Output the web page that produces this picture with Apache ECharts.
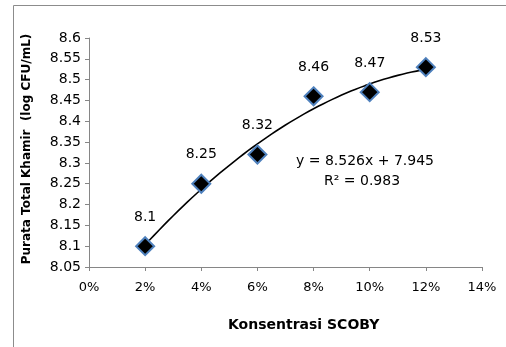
<!DOCTYPE html>
<html><head><meta charset="utf-8">
<script src="https://cdn.jsdelivr.net/npm/echarts@6/dist/echarts.min.js"></script>
<style>html,body{margin:0;padding:0;background:#fff}#c{width:506px;height:347px}</style>
</head><body><div id="c"></div>
<script>
var concentrations = [0.02, 0.04, 0.06, 0.08, 0.10, 0.12];
var yeastCounts = [8.10, 8.25, 8.32, 8.46, 8.47, 8.53];
var pointLabels = ['8.1', '8.25', '8.32', '8.46', '8.47', '8.53'];
var equationLines = ['y = 8.526x + 7.945', 'R² = 0.983'];

// quadratic least-squares trendline computed from the data
function quadFit(xs, ys) {
  var n = xs.length, s = [0,0,0,0,0], t = [0,0,0];
  for (var i = 0; i < n; i++) {
    var x = xs[i], y = ys[i];
    for (var k = 0; k < 5; k++) s[k] += Math.pow(x, k);
    for (var k2 = 0; k2 < 3; k2++) t[k2] += Math.pow(x, k2) * y;
  }
  var A = [[s[0], s[1], s[2], t[0]], [s[1], s[2], s[3], t[1]], [s[2], s[3], s[4], t[2]]];
  for (var c = 0; c < 3; c++) {
    for (var r = c + 1; r < 3; r++) {
      var f = A[r][c] / A[c][c];
      for (var j = c; j < 4; j++) A[r][j] -= f * A[c][j];
    }
  }
  var b = [0,0,0];
  for (var r2 = 2; r2 >= 0; r2--) {
    var v = A[r2][3];
    for (var j2 = r2 + 1; j2 < 3; j2++) v -= A[r2][j2] * b[j2];
    b[r2] = v / A[r2][r2];
  }
  return b;
}
var coef = quadFit(concentrations, yeastCounts);
var trend = [];
var x0 = concentrations[0], x1 = concentrations[concentrations.length - 1];
for (var i = 0; i <= 60; i++) {
  var x = x0 + (x1 - x0) * i / 60;
  trend.push([x, coef[0] + coef[1] * x + coef[2] * x * x]);
}

var font = 'Tahoma, "DejaVu Sans", Verdana, sans-serif';
var chart = echarts.init(document.getElementById('c'));
chart.setOption({
  animation: false,
  grid: { left: 89, right: 24, top: 38, bottom: 80 },
  xAxis: {
    type: 'value', min: 0, max: 0.14, interval: 0.02,
    axisLine: { lineStyle: { color: '#868686' } },
    axisTick: { lineStyle: { color: '#868686' }, length: 4 },
    splitLine: { show: false },
    axisLabel: { color: '#000', fontFamily: font, fontSize: 13, margin: 14,
      formatter: function (v) { return Math.round(v * 100) + '%'; } }
  },
  yAxis: {
    type: 'value', min: 8.05, max: 8.6, interval: 0.05,
    axisLine: { show: true, lineStyle: { color: '#868686' } },
    axisTick: { show: true, lineStyle: { color: '#868686' }, length: 4 },
    splitLine: { show: false },
    axisLabel: { color: '#000', fontFamily: font, fontSize: 14, margin: 8,
      formatter: function (v) { return String(parseFloat(v.toFixed(2))); } }
  },
  series: [
    { type: 'line', data: trend, showSymbol: false, smooth: false,
      lineStyle: { color: '#000', width: 1.6 }, z: 2, silent: true },
    { type: 'scatter', data: concentrations.map(function (x, i) { return [x, yeastCounts[i]]; }),
      symbol: 'diamond', symbolSize: 18,
      itemStyle: { color: '#000', borderColor: '#4f81bd', borderWidth: 2, opacity: 1 },
      label: { show: true, position: 'top', distance: 12, color: '#000', fontFamily: font, fontSize: 14,
        formatter: function (p) { return pointLabels[p.dataIndex]; } },
      z: 3 }
  ],
  graphic: [
    { type: 'rect', shape: { x: 13.5, y: 5.5, width: 520, height: 400 },
      style: { fill: 'none', stroke: '#8c8c8c', lineWidth: 1 }, silent: true },
    { type: 'text', left: 296, top: 154, style: { text: equationLines[0], font: '14px ' + font, fill: '#000' } },
    { type: 'text', left: 324, top: 174, style: { text: equationLines[1], font: '14px ' + font, fill: '#000' } },
    { type: 'text', left: 228, top: 318, style: { text: 'Konsentrasi SCOBY', font: 'bold 14px ' + font, fill: '#000' } },
    { type: 'text', x: 27, y: 149, rotation: Math.PI / 2,
      style: { text: 'Purata Total Khamir  (log CFU/mL)', font: 'bold 12px ' + font, fill: '#000',
        align: 'center', verticalAlign: 'middle' } }
  ]
});
</script></body></html>
